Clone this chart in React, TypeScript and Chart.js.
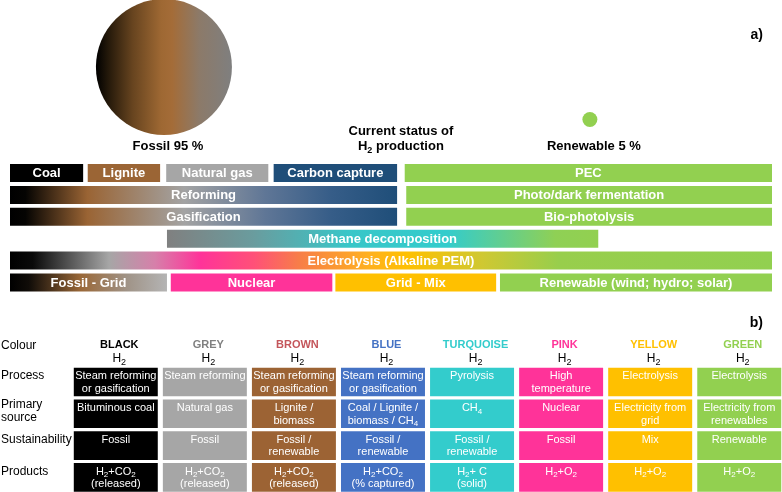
import React, { useEffect, useRef } from 'react';
import { Chart, registerables } from 'chart.js';

Chart.register(...registerables);

const FONT = '"Liberation Sans", Arial, Helvetica, sans-serif';

// ---------------- Section a) data ----------------
const shareLabels = ['Fossil', 'Renewable'];
const shareValues = [95, 5];
const shareSpectrum = [20.2, 76.1];
const shareLevel = [-4.84, -2.44];

const statusTitle = ['Current status of', 'H₂ production'];
const statusSpectrum = 51.3;

const row1Labels = ['Coal', 'Lignite', 'Natural gas', 'Carbon capture', 'PEC'];
const row1Ranges = [[0, 9.6], [10.2, 19.7], [20.5, 33.9], [34.6, 50.8], [51.8, 100]];
const row2Labels = ['Reforming', 'Photo/dark fermentation'];
const row2Ranges = [[0, 50.8], [52, 100]];
const row3Labels = ['Gasification', 'Bio-photolysis'];
const row3Ranges = [[0, 50.8], [52, 100]];
const row4Labels = ['Methane decomposition'];
const row4Ranges = [[20.6, 77.2]];
const row5Labels = ['Electrolysis (Alkaline PEM)'];
const row5Ranges = [[0, 100]];
const row6Labels = ['Fossil - Grid', 'Nuclear', 'Grid - Mix', 'Renewable (wind; hydro; solar)'];
const row6Ranges = [[0, 20.6], [21.1, 42.3], [42.7, 63.8], [64.3, 100]];

const barRows = [
  { labels: row1Labels, ranges: row1Ranges },
  { labels: row2Labels, ranges: row2Ranges },
  { labels: row3Labels, ranges: row3Ranges },
  { labels: row4Labels, ranges: row4Ranges },
  { labels: row5Labels, ranges: row5Ranges },
  { labels: row6Labels, ranges: row6Ranges },
];

// styles
const GREEN = '#92d050';
const solidFills: Record<string, string> = {
  Coal: '#000000',
  Lignite: '#9b6535',
  'Natural gas': '#a6a6a6',
  'Carbon capture': '#1f4e79',
  PEC: GREEN,
  'Photo/dark fermentation': GREEN,
  'Bio-photolysis': GREEN,
  Nuclear: '#ff3399',
  'Grid - Mix': '#ffc000',
  'Renewable (wind; hydro; solar)': GREEN,
};
const fossilBlueStops: [number, string][] = [
  [0, '#000000'], [0.04, '#050402'], [0.2, '#9a6434'], [0.45, '#a3a3a3'],
  [0.66, '#5f7696'], [0.83, '#365d88'], [1, '#1f4e79'],
];
const gradientFills: Record<string, [number, string][]> = {
  Reforming: fossilBlueStops,
  Gasification: fossilBlueStops,
  'Methane decomposition': [
    [0, '#808080'], [0.2, '#6a9c9e'], [0.42, '#38c6c8'], [0.65, '#33cccc'], [0.9, '#8fd055'], [1, GREEN],
  ],
  'Electrolysis (Alkaline PEM)': [
    [0, '#000000'], [0.03, '#0a0a0a'], [0.13, '#a6a6a6'], [0.19, '#d680aa'], [0.25, '#ff3399'],
    [0.32, '#ff5078'], [0.38, '#f77e48'], [0.47, '#ffb020'], [0.52, '#ffc000'], [0.62, '#cfc832'],
    [0.72, '#98ce4c'], [1, GREEN],
  ],
  'Fossil - Grid': [
    [0, '#000000'], [0.12, '#100c08'], [0.45, '#9a6838'], [0.75, '#a09488'], [1, '#b4b4b4'],
  ],
};
const bigCircleStops: [number, string][] = [
  [0, '#000000'], [0.08, '#201609'], [0.27, '#67441f'], [0.48, '#9e6833'], [0.56, '#a46c38'],
  [0.76, '#8c7a69'], [1, '#7f7f7f'],
];

// ---------------- Section b) data ----------------
const colourNames = ['BLACK', 'GREY', 'BROWN', 'BLUE', 'TURQUOISE', 'PINK', 'YELLOW', 'GREEN'];
const headerColours = ['#000000', '#808080', '#c4565b', '#4472c4', '#33cccc', '#ff3399', '#ffc000', '#92d050'];
const cellColours = ['#000000', '#a6a6a6', '#9c6334', '#4472c4', '#33cccc', '#ff3399', '#ffc000', '#92d050'];
const tableRowLabels = ['Process', 'Primary\nsource', 'Sustainability', 'Products'];
const processText = [
  'Steam reforming\nor gasification', 'Steam reforming', 'Steam reforming\nor gasification',
  'Steam reforming\nor gasification', 'Pyrolysis', 'High\ntemperature', 'Electrolysis', 'Electrolysis',
];
const sourceText = [
  'Bituminous coal', 'Natural gas', 'Lignite /\nbiomass', 'Coal / Lignite /\nbiomass / CH₄', 'CH₄',
  'Nuclear', 'Electricity from\ngrid', 'Electricity from\nrenewables',
];
const sustainText = [
  'Fossil', 'Fossil', 'Fossil /\nrenewable', 'Fossil /\nrenewable', 'Fossil /\nrenewable',
  'Fossil', 'Mix', 'Renewable',
];
const productText = [
  'H₂+CO₂\n(released)', 'H₂+CO₂\n(released)', 'H₂+CO₂\n(released)', 'H₂+CO₂\n(% captured)',
  'H₂+ C\n(solid)', 'H₂+O₂', 'H₂+O₂', 'H₂+O₂',
];
const tableRows = [processText, sourceText, sustainText, productText];

// ---------------- helpers ----------------
const SUB: Record<string, string> = { '₀': '0', '₁': '1', '₂': '2', '₃': '3', '₄': '4' };

function drawRich(
  ctx: CanvasRenderingContext2D, text: string, x: number, y: number,
  size: number, weight: string, color: string, align: 'left' | 'center' | 'right' = 'center'
) {
  const runs: { t: string; sub: boolean; w: number }[] = [];
  let cur = '';
  let sub = false;
  for (const ch of text) {
    const isSub = ch in SUB;
    if (isSub !== sub && cur) { runs.push({ t: cur, sub, w: 0 }); cur = ''; }
    sub = isSub;
    cur += isSub ? SUB[ch] : ch;
  }
  if (cur) runs.push({ t: cur, sub, w: 0 });
  const subSize = Math.round(size * 0.72);
  const font = (s: number) => `${weight} ${s}px ${FONT}`;
  let w = 0;
  for (const r of runs) {
    ctx.font = font(r.sub ? subSize : size);
    r.w = ctx.measureText(r.t).width;
    w += r.w;
  }
  let cx = align === 'center' ? x - w / 2 : align === 'right' ? x - w : x;
  ctx.fillStyle = color;
  ctx.textBaseline = 'middle';
  ctx.textAlign = 'left';
  for (const r of runs) {
    ctx.font = font(r.sub ? subSize : size);
    ctx.fillText(r.t, cx, r.sub ? y + size * 0.32 : y);
    cx += r.w;
  }
}

function barFill(labels: string[], ranges: number[][]) {
  return (c: any) => {
    const i = c.dataIndex;
    if (i === undefined) return GREEN;
    const label = labels[i];
    const stops = gradientFills[label];
    if (!stops) return solidFills[label] ?? GREEN;
    const chart = c.chart;
    const xs = chart.scales && chart.scales.x;
    if (!chart.chartArea || !xs) return stops[0][1];
    const [s, e] = ranges[i];
    const g = chart.ctx.createLinearGradient(xs.getPixelForValue(s), 0, xs.getPixelForValue(e), 0);
    stops.forEach(([o, col]) => g.addColorStop(o, col));
    return g;
  };
}

const BIG_R = 68;

function circleFill(c: any) {
  const i = c.dataIndex;
  if (i !== 0) return GREEN;
  const chart = c.chart;
  const xs = chart.scales && chart.scales.x;
  if (!chart.chartArea || !xs) return '#9a6838';
  const cx = xs.getPixelForValue(shareSpectrum[0]);
  const g = chart.ctx.createLinearGradient(cx - BIG_R, 0, cx + BIG_R, 0);
  bigCircleStops.forEach(([o, col]) => g.addColorStop(o, col));
  return g;
}

const sectionAPlugin = {
  id: 'sectionA',
  afterDatasetsDraw(chart: any) {
    const ctx = chart.ctx as CanvasRenderingContext2D;
    ctx.save();
    barRows.forEach((row, d) => {
      const meta = chart.getDatasetMeta(d + 1);
      meta.data.forEach((el: any, i: number) => {
        const p = el.getProps(['x', 'base', 'y'], true);
        drawRich(ctx, row.labels[i], (p.x + p.base) / 2, p.y + 0.5, 13, 'bold', '#ffffff');
      });
    });
    const cm = chart.getDatasetMeta(0);
    let bottom = 0;
    cm.data.forEach((el: any) => { bottom = Math.max(bottom, el.y + el.options.radius); });
    const ly = bottom + 11;
    cm.data.forEach((el: any, i: number) => {
      drawRich(ctx, `${shareLabels[i]} ${shareValues[i]} %`, el.x + 4, ly, 13, 'bold', '#000000');
    });
    const sx = chart.scales.x.getPixelForValue(statusSpectrum);
    drawRich(ctx, statusTitle[0], sx, ly - 14.5, 13, 'bold', '#000000');
    drawRich(ctx, statusTitle[1], sx, ly + 0.5, 13, 'bold', '#000000');
    drawRich(ctx, 'a)', chart.width - 19, 35, 14, 'bold', '#000000', 'right');
    ctx.restore();
  },
};

const sectionBPlugin = {
  id: 'sectionB',
  afterDatasetsDraw(chart: any) {
    const ctx = chart.ctx as CanvasRenderingContext2D;
    const xs = chart.scales.x;
    const ys = chart.scales.y;
    ctx.save();
    const first = chart.getDatasetMeta(0).data[0].getProps(['y', 'height'], true);
    const top1 = first.y - first.height / 2;
    drawRich(ctx, 'Colour', 1, top1 - 22.5, 12, 'normal', '#000000', 'left');
    colourNames.forEach((n, i) => {
      const cx = xs.getPixelForValue(i) + 3.5;
      drawRich(ctx, n, cx, top1 - 22.5, 11, 'bold', headerColours[i]);
      drawRich(ctx, 'H₂', cx, top1 - 9.5, 12, 'normal', '#000000');
    });
    tableRowLabels.forEach((lab, r) => {
      const cy = ys.getPixelForValue(r + 1);
      const lines = lab.split('\n');
      if (lines.length === 1) {
        drawRich(ctx, lines[0], 1, cy - 6, 12, 'normal', '#000000', 'left');
      } else {
        drawRich(ctx, lines[0], 1, cy - 9.3, 12, 'normal', '#000000', 'left');
        drawRich(ctx, lines[1], 1, cy + 4.3, 12, 'normal', '#000000', 'left');
      }
    });
    colourNames.forEach((_, i) => {
      const meta = chart.getDatasetMeta(i);
      meta.data.forEach((el: any, j: number) => {
        const p = el.getProps(['x', 'base', 'y', 'height'], true);
        const cx = (p.x + p.base) / 2;
        const top = p.y - p.height / 2;
        tableRows[j][i].split('\n').forEach((line, k) => {
          drawRich(ctx, line, cx, top + 8.5 + k * 12.5, 11, 'normal', '#ffffff');
        });
      });
    });
    drawRich(ctx, 'b)', chart.width - 19, 23, 14, 'bold', '#000000', 'right');
    ctx.restore();
  },
};

export default function App() {
  const refA = useRef<HTMLCanvasElement>(null);
  const refB = useRef<HTMLCanvasElement>(null);

  useEffect(() => {
    const common = {
      responsive: false,
      animation: false as const,
      devicePixelRatio: 1,
      events: [] as any[],
      plugins: { legend: { display: false }, tooltip: { enabled: false } },
    };

    const chartA = new Chart(refA.current as HTMLCanvasElement, {
      type: 'bar',
      data: {
        datasets: [
          {
            type: 'scatter',
            data: shareSpectrum.map((x, i) => ({ x, y: shareLevel[i] })),
            pointRadius: [BIG_R, 7.5],
            pointBackgroundColor: circleFill,
            pointBorderWidth: 0,
            borderWidth: 0,
            clip: false,
          } as any,
          ...barRows.map((row, r) => ({
            type: 'bar',
            data: row.ranges.map((rg) => ({ x: rg, y: r })),
            backgroundColor: barFill(row.labels, row.ranges),
            categoryPercentage: 1,
            barPercentage: 0.822,
            grouped: false,
            borderWidth: 0,
          } as any)),
        ],
      },
      options: {
        ...common,
        indexAxis: 'y',
        layout: { autoPadding: false, padding: { left: 10, right: 10, top: 0, bottom: 0 } },
        scales: {
          x: { type: 'linear', display: false, min: 0, max: 100, offset: false },
          y: {
            type: 'linear', display: false, min: -7.9, max: 5.8, reverse: true, offset: false,
            ticks: { stepSize: 1, includeBounds: false },
          },
        },
      } as any,
      plugins: [sectionAPlugin],
    });

    const chartB = new Chart(refB.current as HTMLCanvasElement, {
      type: 'bar',
      data: {
        datasets: colourNames.map((name, i) => ({
          label: name,
          data: tableRows.map((_, r) => ({ x: [i - 0.4715, i + 0.4715], y: r + 1 })),
          backgroundColor: cellColours[i],
          categoryPercentage: 1,
          barPercentage: 0.9,
          grouped: false,
          borderWidth: 0,
        } as any)),
      },
      options: {
        ...common,
        indexAxis: 'y',
        layout: { autoPadding: false, padding: 0 },
        scales: {
          x: { type: 'linear', display: false, min: -1.3, max: 7.48, offset: false },
          y: {
            type: 'linear', display: false, min: -1.579, max: 4.459, reverse: true, offset: false,
            ticks: { stepSize: 1, includeBounds: false },
          },
        },
      } as any,
      plugins: [sectionBPlugin],
    });

    return () => {
      chartA.destroy();
      chartB.destroy();
    };
  }, []);

  return (
    <div style={{ position: 'fixed', left: 0, top: 0, width: 782, height: 492, background: '#ffffff' }}>
      <canvas ref={refA} width={782} height={300} style={{ position: 'absolute', left: 0, top: 0 }} />
      <canvas ref={refB} width={782} height={192} style={{ position: 'absolute', left: 0, top: 300 }} />
    </div>
  );
}
